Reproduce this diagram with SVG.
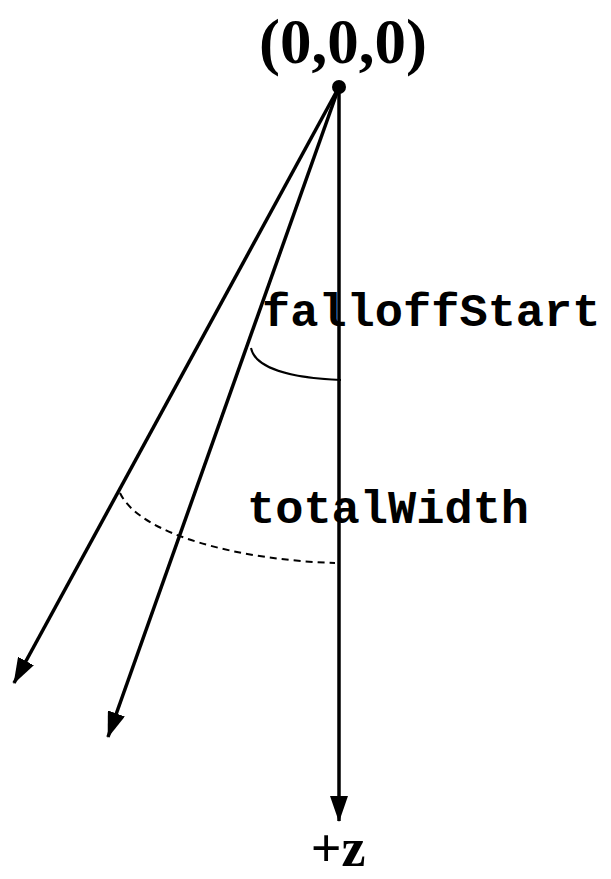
<svg xmlns="http://www.w3.org/2000/svg" width="611" height="879" viewBox="0 0 611 879">
<style>
.ray{stroke:#000;stroke-width:3.5;fill:none}
.arc{stroke:#000;stroke-width:2;fill:none}
.serif{font-family:"Liberation Serif","Times New Roman",serif;font-weight:bold;fill:#000}
.mono{font-family:"Liberation Mono","Courier New",monospace;font-weight:bold;font-size:47px;fill:#000}
</style>
<defs>
<marker id="ah" markerWidth="26" markerHeight="18" refX="25" refY="9" orient="auto" markerUnits="userSpaceOnUse" viewBox="0 0 26 18">
<path d="M0,0 L26,9 L0,18 Z" fill="#000"/>
</marker>
</defs>
<g id="connectors">
<line class="ray" x1="339" y1="87" x2="339" y2="821" marker-end="url(#ah)"/>
<line class="ray" x1="339" y1="87" x2="14" y2="683" marker-end="url(#ah)"/>
<line class="ray" x1="339" y1="87" x2="108" y2="737" marker-end="url(#ah)"/>
<path class="arc" d="M251,348 C255,368 290,378 341,380"/>
<path class="arc" stroke-dasharray="7,5" d="M120,493 C140,535 240,560 335,563"/>
</g>
<g id="origin">
<circle cx="339" cy="87" r="7" fill="#000"/>
<text class="serif" x="343" y="63" font-size="63" text-anchor="middle">(0,0,0)</text>
</g>
<g id="falloffStart"><text class="mono" x="262" y="326">falloffStart</text></g>
<g id="totalWidth"><text class="mono" x="247" y="523">totalWidth</text></g>
<g id="zlabel"><text class="serif" x="338" y="866" font-size="54" text-anchor="middle">+z</text></g>
</svg>
